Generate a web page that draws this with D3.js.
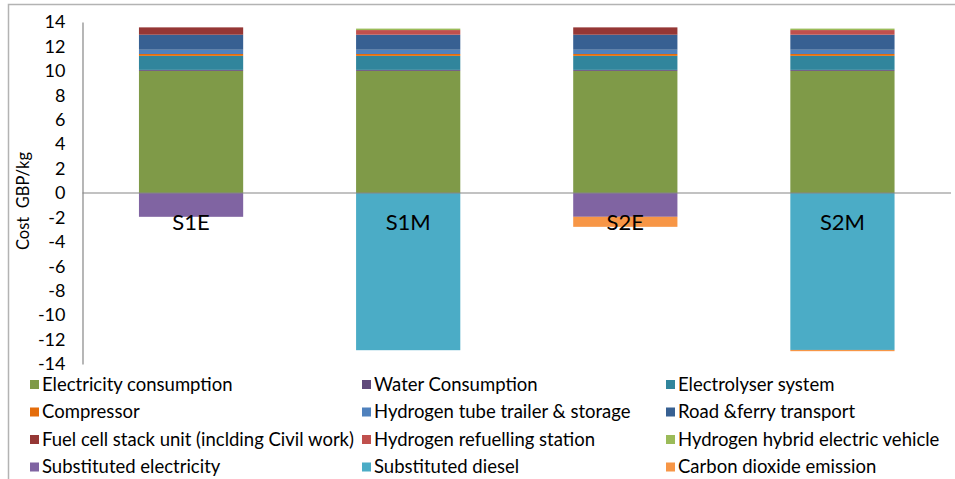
<!DOCTYPE html>
<html>
<head>
<meta charset="utf-8">
<script src="https://cdn.jsdelivr.net/npm/d3@7"></script>
<style>
  body { margin: 0; background: #fff; }
  svg { display: block; }
  text { font-family: Lato, "Open Sans", sans-serif; fill: #000; }
</style>
</head>
<body>
<div id="chart"></div>
<script>
const width = 955, height = 479

// scenarios along the x axis
const categories = ["S1E", "S1M", "S2E", "S2M"]

// cost components, GBP/kg, one value per scenario
const series_names = [
    "Electricity consumption", "Water Consumption", "Electrolyser system",
    "Compressor", "Hydrogen tube trailer & storage", "Road &ferry transport",
    "Fuel cell stack unit (inclding Civil work)", "Hydrogen refuelling station",
    "Hydrogen hybrid electric vehicle", "Substituted electricity",
    "Substituted diesel", "Carbon dioxide emission"
]
const electricity = [10, 10, 10, 10]
const water = [0.08, 0.08, 0.08, 0.08]
const electrolyser = [1.15, 1.15, 1.15, 1.15]
const compressor = [0.15, 0.15, 0.15, 0.15]
const tube_trailer = [0.35, 0.35, 0.35, 0.35]
const road_ferry = [1.23, 1.23, 1.23, 1.23]
const fuel_cell = [0.6, 0, 0.6, 0]
const refuelling = [0, 0.38, 0, 0.38]
const hybrid_vehicle = [0, 0.12, 0, 0.12]
const subst_electricity = [-1.95, 0, -1.95, 0]
const subst_diesel = [0, -12.87, 0, -12.85]
const co2_emission = [0, 0, -0.82, -0.1]

const series_values = [electricity, water, electrolyser, compressor, tube_trailer,
    road_ferry, fuel_cell, refuelling, hybrid_vehicle, subst_electricity,
    subst_diesel, co2_emission]

const y_ticks = [-14, -12, -10, -8, -6, -4, -2, 0, 2, 4, 6, 8, 10, 12, 14]

const colors = ["#7f9a48", "#604a7b", "#31859c", "#e46c0a", "#4f81bd", "#376092",
    "#953735", "#c0504d", "#9bbb59", "#8064a2", "#4bacc6", "#f79646"]

// build rows for d3.stack
const rows = categories.map((c, i) => {
    const r = {cat: c}
    series_names.forEach((s, j) => r[s] = series_values[j][i])
    return r
})

const stacked = d3.stack()
    .keys(series_names)
    .offset(d3.stackOffsetDiverging)(rows)

const svg = d3.select("#chart").append("svg")
    .attr("width", width).attr("height", height)

// outer frame
svg.append("path")
    .attr("d", "M8.5," + height + "V4.5H" + width)
    .attr("fill", "none").attr("stroke", "#b3b3b3").attr("stroke-width", 1.5)

const x = d3.scaleBand()
    .domain(categories)
    .range([82.5, 951])
    .paddingInner(0.52)
    .paddingOuter(0.26)

const y = d3.scaleLinear()
    .domain([-14, 14])
    .range([364, 22])

// bars
svg.append("g").selectAll("g")
    .data(stacked)
    .join("g")
    .attr("fill", (d, i) => colors[i])
    .selectAll("rect")
    .data(d => d)
    .join("rect")
    .attr("x", d => x(d.data.cat))
    .attr("width", x.bandwidth())
    .attr("y", d => y(d[1]))
    .attr("height", d => Math.max(0, y(d[0]) - y(d[1])))

// y axis, plain hyphen for negatives like the original
const y_axis = svg.append("g")
    .attr("transform", "translate(82.5,0)")
    .call(d3.axisLeft(y).tickValues(y_ticks).tickSize(0).tickPadding(17)
        .tickFormat(d => String(d)))
y_axis.select(".domain").attr("stroke", "#868686").attr("stroke-width", 1.2)
y_axis.selectAll("text")
    .style("font-family", "Lato, sans-serif")
    .style("font-size", "18px")
    .attr("fill", "#000")

// zero line
svg.append("line")
    .attr("x1", 82.5).attr("x2", 951)
    .attr("y1", y(0)).attr("y2", y(0))
    .attr("stroke", "#868686").attr("stroke-width", 1.2)

// category labels under the zero line
svg.append("g").selectAll("text")
    .data(categories)
    .join("text")
    .attr("x", d => x(d) + x.bandwidth() / 2)
    .attr("y", y(0) + 37)
    .attr("text-anchor", "middle")
    .style("font-size", "22px")
    .text(d => d)

// axis title
svg.append("text")
    .attr("transform", "translate(29,201) rotate(-90)")
    .attr("text-anchor", "middle")
    .style("font-size", "16.5px")
    .style("white-space", "pre")
    .text("Cost  GBP/kg")

// legend, 3 columns x 4 rows
const legend_x = [30, 362, 666]
const legend_y0 = 384.5, legend_dy = 27.5
const legend = svg.append("g").selectAll("g")
    .data(series_names)
    .join("g")
    .attr("transform", (d, i) => "translate(" + legend_x[i % 3] + "," + (legend_y0 + Math.floor(i / 3) * legend_dy) + ")")

legend.append("rect")
    .attr("x", 0).attr("y", -4.5)
    .attr("width", 9).attr("height", 9)
    .attr("fill", (d, i) => colors[i])

legend.append("text")
    .attr("x", 12)
    .attr("y", 6)
    .style("font-size", "18.5px")
    .text(d => d)
</script>
</body>
</html>
